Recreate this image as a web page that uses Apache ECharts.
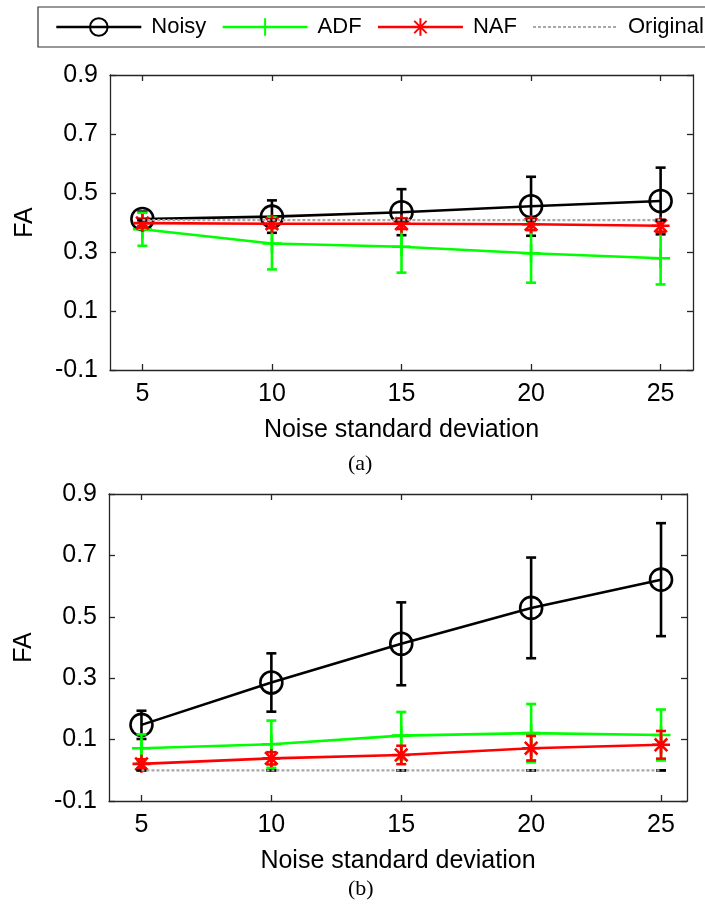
<!DOCTYPE html>
<html><head><meta charset="utf-8">
<script src="https://cdn.jsdelivr.net/npm/echarts@6/dist/echarts.min.js"></script>
<style>html,body{margin:0;padding:0;background:#fff}#c{width:705px;height:911px}</style>
</head><body><div id="c"></div>
<script>
// ---------- data ----------
const noiseLevels = [5, 10, 15, 20, 25];
const xTicks = [5, 10, 15, 20, 25];
const yTicks = [-0.1, 0.1, 0.3, 0.5, 0.7, 0.9];
const seriesNames = ['Noisy', 'ADF', 'NAF', 'Original'];

// panel (a)
const aNoisy = [0.412, 0.420, 0.435, 0.455, 0.473];
const aNoisyErr = [0.025, 0.055, 0.078, 0.100, 0.113];
const aADF = [0.377, 0.329, 0.318, 0.296, 0.279];
const aADFErr = [0.056, 0.088, 0.088, 0.100, 0.089];
const aNAF = [0.398, 0.396, 0.396, 0.394, 0.389];
const aNAFErr = [0.015, 0.015, 0.018, 0.020, 0.020];
const aOrig = [0.408, 0.408, 0.408, 0.408, 0.408];
const aOrigErr = [0, 0, 0, 0, 0];

// panel (b)
const bNoisy = [0.148, 0.286, 0.412, 0.529, 0.621];
const bNoisyErr = [0.046, 0.095, 0.135, 0.164, 0.184];
const bADF = [0.072, 0.085, 0.113, 0.121, 0.115];
const bADFErr = [0.045, 0.077, 0.077, 0.095, 0.083];
const bNAF = [0.021, 0.039, 0.050, 0.072, 0.083];
const bNAFErr = [0.015, 0.020, 0.030, 0.040, 0.045];
const bOrig = [0, 0, 0, 0, 0];
const bOrigErr = [0, 0, 0, 0, 0];

// ---------- styles ----------
const FONT = 'Liberation Sans, Arial, sans-serif';
const AXIS_COLOR = '#262626';
const PLUS = 'path://M0,5L10,5M5,0L5,10';
const STAR = 'path://M0,5L10,5M5,0L5,10M1.5,1.5L8.5,8.5M1.5,8.5L8.5,1.5';
const styles = {
  Noisy: {color: '#000000', symbol: 'circle', size: 22, type: 'solid', width: 2.6, errColor: '#000000'},
  ADF: {color: '#00ff00', symbol: PLUS, size: 19, type: 'solid', width: 2.6, errColor: '#00ff00'},
  NAF: {color: '#ff0000', symbol: STAR, size: 18, type: 'solid', width: 2.6, errColor: '#ff0000'},
  Original: {color: '#a8a8a8', symbol: 'none', size: 0, type: [3, 2], width: 2.2, errColor: '#000000'}
};

const grids = [
  {left: 110, right: 12, top: 75, height: 295, xMin: 3.75, xMax: 26.25},
  {left: 109, right: 18, top: 494, height: 307, xMin: 3.75, xMax: 26}
];

const xAxes = [], yAxes = [];
grids.forEach((g, gi) => {
  xAxes.push({
    type: 'value', gridIndex: gi, min: g.xMin, max: g.xMax, position: 'bottom',
    name: 'Noise standard deviation', nameLocation: 'middle', nameGap: 48,
    nameTextStyle: {fontFamily: FONT, fontSize: 25, color: '#000'},
    axisLine: {show: true, onZero: false, lineStyle: {color: AXIS_COLOR, width: 1.3}},
    axisTick: {show: true, inside: true, length: 6, customValues: xTicks, lineStyle: {color: AXIS_COLOR, width: 1.3}},
    axisLabel: {show: true, customValues: xTicks, margin: 12, fontFamily: FONT, fontSize: 25, color: '#000'},
    splitLine: {show: false}
  });
  xAxes.push({
    type: 'value', gridIndex: gi, min: g.xMin, max: g.xMax, position: 'top',
    axisLine: {show: true, onZero: false, lineStyle: {color: AXIS_COLOR, width: 1.3}},
    axisTick: {show: true, inside: true, length: 6, customValues: xTicks, lineStyle: {color: AXIS_COLOR, width: 1.3}},
    axisLabel: {show: false}, splitLine: {show: false}
  });
  yAxes.push({
    type: 'value', gridIndex: gi, min: -0.1, max: 0.9, position: 'left',
    name: 'FA', nameLocation: 'middle', nameGap: 72, nameRotate: 90,
    nameTextStyle: {fontFamily: FONT, fontSize: 25, color: '#000'},
    axisLine: {show: true, onZero: false, lineStyle: {color: AXIS_COLOR, width: 1.3}},
    axisTick: {show: true, inside: true, length: 6, customValues: yTicks, lineStyle: {color: AXIS_COLOR, width: 1.3}},
    axisLabel: {show: true, customValues: yTicks, margin: 12, fontFamily: FONT, fontSize: 25, color: '#000',
      formatter: v => v.toFixed(1)},
    splitLine: {show: false}
  });
  yAxes.push({
    type: 'value', gridIndex: gi, min: -0.1, max: 0.9, position: 'right',
    axisLine: {show: true, onZero: false, lineStyle: {color: AXIS_COLOR, width: 1.3}},
    axisTick: {show: true, inside: true, length: 6, customValues: yTicks, lineStyle: {color: AXIS_COLOR, width: 1.3}},
    axisLabel: {show: false}, splitLine: {show: false}
  });
});

function errSeries(name, vals, errs, gi, z) {
  const st = styles[name];
  return {
    type: 'custom', name: name + ' error', xAxisIndex: gi * 2, yAxisIndex: gi * 2, z: z, silent: true,
    encode: {x: 0, y: 1},
    data: noiseLevels.map((x, i) => [x, vals[i], errs[i]]),
    renderItem: (params, api) => {
      const x = api.value(0), y = api.value(1), e = api.value(2);
      const top = api.coord([x, y + e]);
      const bot = api.coord([x, y - e]);
      const w = 5;
      const s = {stroke: st.errColor, lineWidth: 2.6};
      return {type: 'group', children: [
        {type: 'line', shape: {x1: top[0], y1: top[1], x2: bot[0], y2: bot[1]}, style: s},
        {type: 'line', shape: {x1: top[0] - w, y1: top[1], x2: top[0] + w, y2: top[1]}, style: s},
        {type: 'line', shape: {x1: bot[0] - w, y1: bot[1], x2: bot[0] + w, y2: bot[1]}, style: s}
      ]};
    }
  };
}

function lineSeries(name, vals, gi, z) {
  const st = styles[name];
  return {
    type: 'line', name: name, xAxisIndex: gi * 2, yAxisIndex: gi * 2, z: z, silent: true,
    data: noiseLevels.map((x, i) => [x, vals[i]]),
    symbol: st.symbol, symbolSize: st.size, showSymbol: st.symbol !== 'none',
    lineStyle: {color: st.color, width: st.width, type: st.type},
    itemStyle: {color: 'rgba(0,0,0,0)', borderColor: st.color, borderWidth: 2.6},
    emphasis: {disabled: true},
    animation: false
  };
}

const panels = [
  {Noisy: [aNoisy, aNoisyErr], ADF: [aADF, aADFErr], NAF: [aNAF, aNAFErr], Original: [aOrig, aOrigErr]},
  {Noisy: [bNoisy, bNoisyErr], ADF: [bADF, bADFErr], NAF: [bNAF, bNAFErr], Original: [bOrig, bOrigErr]}
];

const series = [];
panels.forEach((p, gi) => {
  seriesNames.forEach((n, k) => {
    series.push(lineSeries(n, p[n][0], gi, 2 + k));
    series.push(errSeries(n, p[n][0], p[n][1], gi, 2 + k));
  });
});

const legendData = seriesNames.map(n => {
  const st = styles[n];
  return {
    name: n,
    lineStyle: {color: st.color, width: st.width, type: st.type},
    itemStyle: {color: 'rgba(0,0,0,0)', borderColor: st.color, borderWidth: n === 'Original' ? 0 : 2}
  };
});

const chart = echarts.init(document.getElementById('c'), null, {renderer: 'canvas'});
chart.setOption({
  animation: false,
  backgroundColor: '#ffffff',
  grid: grids.map(g => ({left: g.left, right: g.right, top: g.top, height: g.height})),
  xAxis: xAxes,
  yAxis: yAxes,
  legend: {
    data: legendData, left: 38, top: 7, width: 760, orient: 'horizontal',
    itemWidth: 85, itemHeight: 22, itemGap: 15,
    padding: [9, 10, 9, 17],
    borderColor: '#333', borderWidth: 1.2,
    selectedMode: false,
    textStyle: {fontFamily: FONT, fontSize: 22, color: '#000', padding: [0, 0, 0, 5]}
  },
  graphic: [
    {type: 'text', left: 348, top: 453, style: {text: '(a)', font: '22px "Liberation Serif", "Times New Roman", serif', fill: '#000'}},
    {type: 'text', left: 348, top: 878, style: {text: '(b)', font: '22px "Liberation Serif", "Times New Roman", serif', fill: '#000'}}
  ],
  series: series
});
</script>
</body></html>
